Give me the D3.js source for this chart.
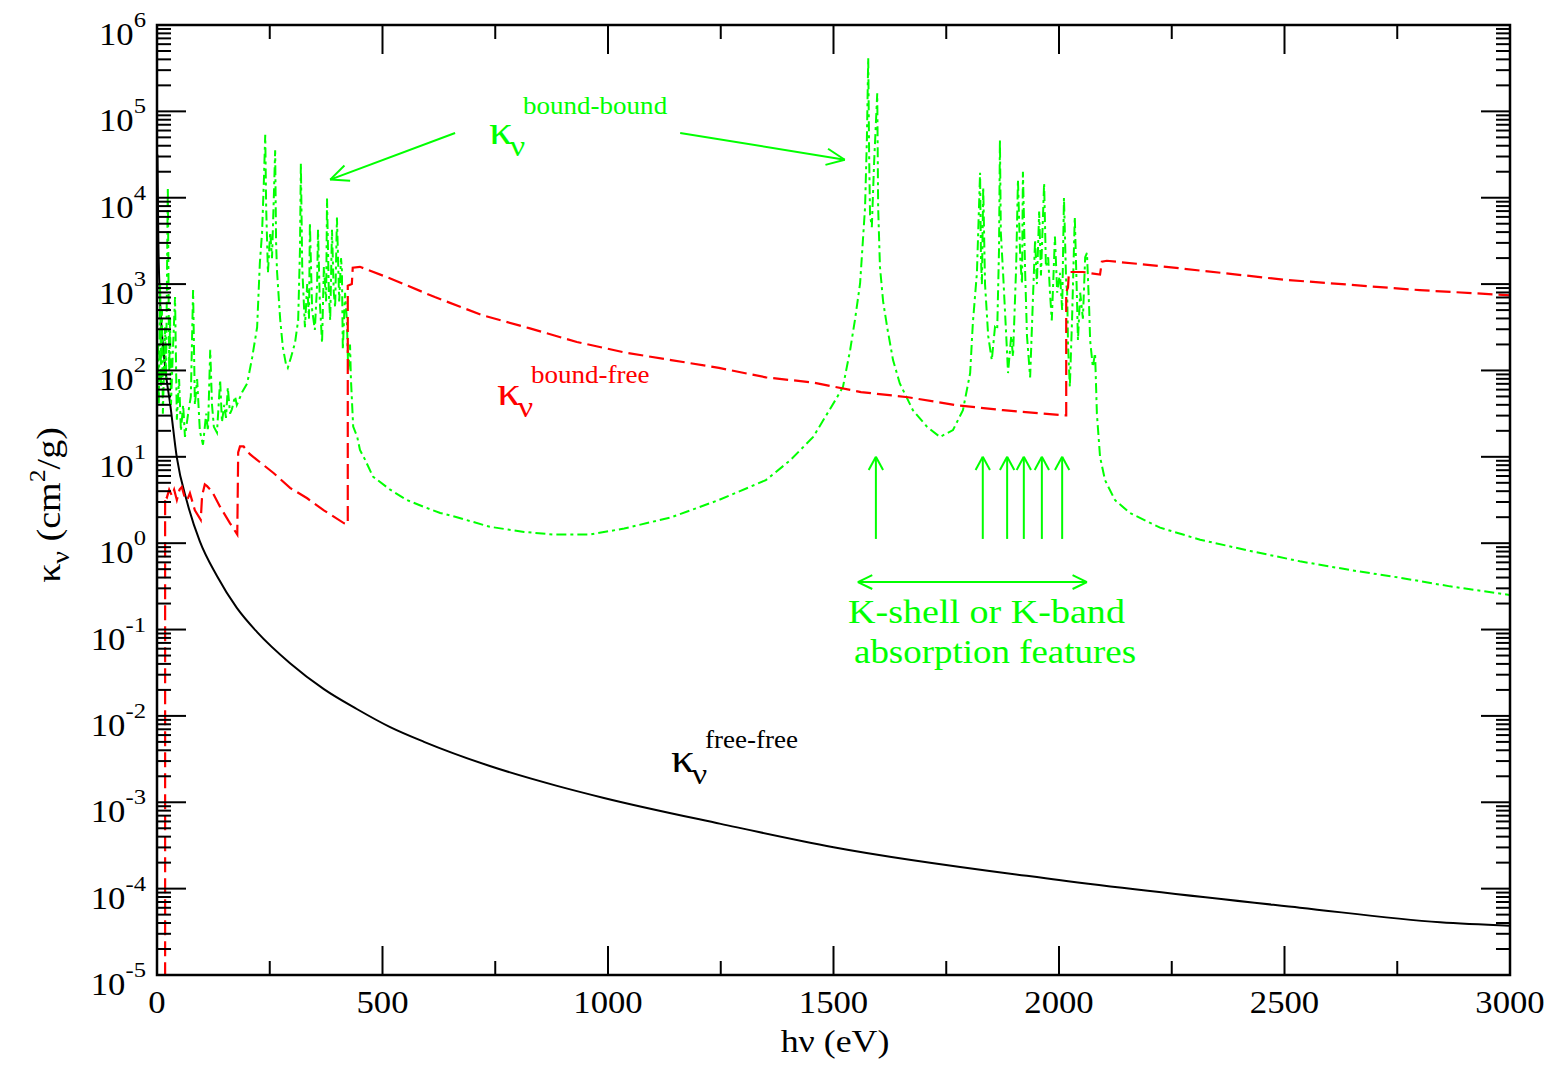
<!DOCTYPE html>
<html lang="en">
<head>
  <meta charset="UTF-8">
  <title>Opacity components vs photon energy</title>
  <script src="https://d3js.org/d3.v7.min.js"></script>
  <style>
    html, body {
      margin: 0;
      padding: 0;
      background: #fff;
    }
    svg text {
      font-family: "Liberation Serif", "Times New Roman", serif;
    }
  </style>
</head>
<body>
  <svg id="chart" width="1557" height="1065"></svg>
  <script>
    // axis ticks / labels
    var xMajorTicks = [0, 500, 1000, 1500, 2000, 2500, 3000];
    var xMinorTicks = [250, 750, 1250, 1750, 2250, 2750];
    var yExponents = [-5, -4, -3, -2, -1, 0, 1, 2, 3, 4, 5, 6];

    // series: [h nu (eV), log10 kappa (cm^2/g)]
    var freeFree = [
      [1, 4.5], [3, 3.5], [6, 2.9], [10, 2.5], [15, 2.2], [20, 1.95], [29, 1.62],
      [44, 0.99], [67, 0.47], [95, 0.02], [133, -0.38], [177, -0.75], [222, -1.03],
      [295, -1.39], [370, -1.69], [443, -1.92], [517, -2.13], [592, -2.30],
      [738, -2.58], [887, -2.81], [991, -2.95], [1250, -3.25], [1500, -3.52],
      [2000, -3.90], [2534, -4.22], [2845, -4.39], [3000, -4.43]
    ];

    var boundFree = [
      [18, -6], [18, 0.55], [22, 0.53], [27, 0.62], [33, 0.55], [38, 0.62], [44, 0.5],
      [50, 0.62], [55, 0.65], [62, 0.52], [67, 0.5], [73, 0.58], [84, 0.38], [97, 0.27],
      [100, 0.55], [106, 0.68], [111, 0.66], [122, 0.6], [140, 0.42], [162, 0.23],
      [178, 0.10], [180, 1.05], [184, 1.12], [192, 1.12], [206, 1.03], [259, 0.81],
      [295, 0.64], [333, 0.52], [370, 0.38], [415, 0.23], [423, 0.22], [423, 2.98],
      [432, 3.0], [434, 3.19], [450, 3.2], [510, 3.08], [616, 2.85], [721, 2.64],
      [825, 2.49], [931, 2.33], [1035, 2.21], [1140, 2.12], [1246, 2.03], [1350, 1.92],
      [1455, 1.86], [1561, 1.75], [1665, 1.69], [1769, 1.60], [1876, 1.54], [2011, 1.48],
      [2016, 1.48], [2016, 2.91], [2020, 2.96], [2022, 3.14], [2053, 3.14], [2091, 3.11],
      [2095, 3.26], [2106, 3.27], [2202, 3.22], [2500, 3.05], [2800, 2.93], [3000, 2.87]
    ];

    var boundBound = [
      [2, 2.3], [4, 1.6], [7, 3.0], [9, 1.8], [11, 2.7], [13, 1.5], [18, 2.5], [20, 1.9],
      [24, 4.12], [27, 2.0], [29, 2.6], [31, 1.6], [35, 2.2], [40, 2.85], [44, 1.43],
      [49, 1.9], [53, 1.3], [58, 1.6], [62, 1.23], [69, 1.5], [75, 1.7], [80, 2.93],
      [84, 1.6], [89, 1.9], [95, 1.3], [102, 1.14], [109, 1.5], [113, 1.3], [118, 2.24],
      [122, 1.6], [126, 1.35], [133, 1.28], [140, 1.89], [144, 1.4], [149, 1.6],
      [153, 1.45], [157, 1.80], [162, 1.5], [166, 1.55], [173, 1.7], [177, 1.6],
      [189, 1.75], [200, 1.85], [211, 2.15], [222, 2.5], [228, 3.24], [233, 3.6],
      [237, 4.2], [240, 4.73], [242, 3.9], [246, 3.13], [251, 3.6], [255, 3.3],
      [259, 4.0], [262, 4.55], [264, 3.5], [266, 3.16], [273, 2.6], [279, 2.27],
      [286, 2.07], [290, 2.03], [297, 2.15], [306, 2.32], [313, 2.58], [317, 3.4],
      [319, 4.4], [322, 3.2], [328, 2.5], [333, 3.0], [337, 2.6], [339, 3.71],
      [344, 2.7], [350, 2.47], [355, 3.0], [357, 3.63], [361, 2.8], [366, 2.32],
      [370, 3.2], [375, 2.8], [377, 3.99], [381, 2.9], [384, 2.58], [388, 3.63],
      [392, 2.9], [395, 2.73], [399, 3.77], [404, 2.8], [408, 3.3], [410, 3.16],
      [412, 2.24], [417, 2.9], [421, 2.58], [424, 2.0], [428, 2.3], [430, 1.9],
      [435, 1.35], [444, 1.23], [450, 1.08], [461, 0.97], [479, 0.77], [517, 0.62],
      [554, 0.50], [592, 0.42], [628, 0.35], [665, 0.30], [738, 0.19], [814, 0.13],
      [878, 0.10], [960, 0.10], [1036, 0.17], [1140, 0.30], [1246, 0.50], [1350, 0.73],
      [1404, 0.96], [1455, 1.23], [1508, 1.69], [1521, 1.81], [1537, 2.24], [1548, 2.6],
      [1559, 3.01], [1570, 3.89], [1574, 4.67], [1577, 5.62], [1579, 4.5], [1581, 3.8],
      [1585, 3.66], [1590, 4.4], [1597, 5.21], [1599, 3.89], [1603, 3.2], [1610, 2.8],
      [1619, 2.5], [1632, 2.12], [1647, 1.85], [1676, 1.54], [1707, 1.35], [1736, 1.23],
      [1765, 1.31], [1787, 1.54], [1803, 1.97], [1809, 2.55], [1818, 3.13], [1825, 4.29],
      [1827, 3.3], [1829, 3.0], [1832, 4.12], [1836, 3.0], [1843, 2.4], [1851, 2.12],
      [1858, 2.5], [1863, 2.47], [1867, 3.4], [1869, 4.67], [1871, 3.6], [1876, 3.13],
      [1883, 2.4], [1887, 1.97], [1894, 2.4], [1898, 2.16], [1905, 3.2], [1909, 4.21],
      [1914, 3.3], [1918, 3.0], [1920, 4.3], [1925, 3.13], [1929, 2.4], [1936, 1.92],
      [1942, 2.8], [1947, 3.51], [1951, 3.0], [1956, 3.84], [1960, 3.1], [1967, 4.17],
      [1971, 3.2], [1976, 3.31], [1980, 2.9], [1984, 2.58], [1991, 3.55], [1996, 2.9],
      [2002, 3.13], [2007, 2.7], [2011, 4.0], [2016, 3.0], [2018, 2.93], [2020, 2.3],
      [2024, 1.81], [2029, 2.6], [2035, 3.78], [2040, 2.8], [2042, 2.35], [2047, 2.9],
      [2053, 2.6], [2058, 3.31], [2062, 3.36], [2067, 2.7], [2069, 2.35], [2075, 2.04],
      [2080, 2.2], [2084, 1.5], [2091, 1.0], [2102, 0.73], [2124, 0.5], [2157, 0.35],
      [2224, 0.18], [2313, 0.04], [2424, -0.09], [2534, -0.21], [2645, -0.31],
      [2756, -0.40], [2867, -0.5], [3000, -0.6]
    ];

    // annotation anchors (h nu, kappa)
    var kShellArrowsE = [1594, 1831, 1885, 1922, 1962, 2007];
    var kShellSpanE = [1554, 2062];
    var bbArrowTails = [[661, 4.75], [1160, 4.75]];
    var bbArrowTips = [[384, 4.21], [1525, 4.44]];

    var green = "#00ff00", red = "#ff0000";

    var svg = d3.select("#chart");
    var frame = {left: 157, right: 1510, top: 25, bottom: 975};

    var x = d3.scaleLinear().domain([0, 3000]).range([frame.left, frame.right]);
    var y = d3.scaleLog().domain([1e-5, 1e6]).range([frame.bottom, frame.top]);

    var line = d3.line()
      .x(d => x(d[0]))
      .y(d => y(Math.pow(10, d[1])));

    svg.append("clipPath").attr("id", "plotClip")
      .append("rect")
      .attr("x", frame.left).attr("y", frame.top)
      .attr("width", frame.right - frame.left).attr("height", frame.bottom - frame.top);

    var plot = svg.append("g").attr("clip-path", "url(#plotClip)");

    plot.append("path")
      .datum(freeFree)
      .attr("fill", "none")
      .attr("stroke", "#000")
      .attr("stroke-width", 2)
      .attr("d", line.curve(d3.curveMonotoneX));

    line.curve(d3.curveLinear);

    plot.append("path")
      .datum(boundBound)
      .attr("fill", "none")
      .attr("stroke", green)
      .attr("stroke-width", 2)
      .attr("stroke-dasharray", "10,4,3,4")
      .attr("d", line);

    plot.append("path")
      .datum(boundFree)
      .attr("fill", "none")
      .attr("stroke", red)
      .attr("stroke-width", 2.2)
      .attr("stroke-dasharray", "15,6")
      .attr("d", line);

    // ticks on all four sides, pointing inward
    var ticks = svg.append("g").attr("stroke", "#000").attr("stroke-width", 2);
    function xTick(v, len) {
      ticks.append("line").attr("x1", x(v)).attr("x2", x(v)).attr("y1", frame.bottom).attr("y2", frame.bottom - len);
      ticks.append("line").attr("x1", x(v)).attr("x2", x(v)).attr("y1", frame.top).attr("y2", frame.top + len);
    }
    function yTick(v, len) {
      ticks.append("line").attr("y1", y(v)).attr("y2", y(v)).attr("x1", frame.left).attr("x2", frame.left + len);
      ticks.append("line").attr("y1", y(v)).attr("y2", y(v)).attr("x1", frame.right).attr("x2", frame.right - len);
    }
    xMajorTicks.forEach(v => xTick(v, 29));
    xMinorTicks.forEach(v => xTick(v, 14));
    yExponents.forEach(function(e) {
      yTick(Math.pow(10, e), 29);
      if (e < 6) {
        for (var k = 2; k < 10; k++) yTick(k * Math.pow(10, e), 14);
      }
    });

    svg.append("rect")
      .attr("x", frame.left).attr("y", frame.top)
      .attr("width", frame.right - frame.left).attr("height", frame.bottom - frame.top)
      .attr("fill", "none")
      .attr("stroke", "#000")
      .attr("stroke-width", 2.5);

    // wider glyphs, like the original raster
    function stretched(px, py, size, anchor, fill, sx) {
      return svg.append("text")
        .attr("transform", `translate(${px},${py}) scale(${sx || 1.12},1)`)
        .attr("font-size", size)
        .attr("text-anchor", anchor || "start")
        .attr("fill", fill || "#000");
    }

    xMajorTicks.forEach(function(v) {
      stretched(x(v), 1013, 31, "middle").text(v);
    });

    yExponents.forEach(function(e) {
      var t = stretched(146, y(Math.pow(10, e)) + 20, 31, "end");
      t.append("tspan").text("10");
      t.append("tspan").attr("dy", -18).attr("font-size", 22).text(e);
    });

    stretched(835, 1052, 32, "middle").text("h\u03bd (eV)");

    var yl = svg.append("text")
      .attr("transform", "translate(60,505) rotate(-90) scale(1.12,1)")
      .attr("font-size", 34)
      .attr("text-anchor", "middle");
    yl.append("tspan").text("\u03ba");
    yl.append("tspan").attr("dy", 9).attr("font-size", 25).text("\u03bd");
    yl.append("tspan").attr("dy", -9).text(" (cm");
    yl.append("tspan").attr("dy", -15).attr("font-size", 23).text("2");
    yl.append("tspan").attr("dy", 15).text("/g)");

    // kappa_nu^{label} annotations
    function kappaLabel(px, py, sup, color, supDy) {
      stretched(px, py, 42, "start", color).text("\u03ba");
      stretched(px + 21, py + 12, 30, "start", color).text("\u03bd");
      stretched(px + 34, py - supDy, 26, "start", color, 1.04).text(sup);
    }
    kappaLabel(489, 144, "bound-bound", green, 30);
    kappaLabel(497, 405, "bound-free", red, 22);
    kappaLabel(671, 772, "free-free", "#000", 24);

    // arrows
    var ann = svg.append("g")
      .attr("stroke", green)
      .attr("stroke-width", 2)
      .attr("fill", "none");

    function head(tx, ty, fx, fy, len, half) {
      var a = Math.atan2(fy - ty, fx - tx);
      [a - half, a + half].forEach(function(b) {
        ann.append("line")
          .attr("x1", tx).attr("y1", ty)
          .attr("x2", tx + len * Math.cos(b)).attr("y2", ty + len * Math.sin(b));
      });
    }

    bbArrowTails.forEach(function(t, i) {
      var p = bbArrowTips[i];
      var x0 = x(t[0]), y0 = y(Math.pow(10, t[1]));
      var x1 = x(p[0]), y1 = y(Math.pow(10, p[1]));
      ann.append("line").attr("x1", x0).attr("y1", y0).attr("x2", x1).attr("y2", y1);
      head(x1, y1, x0, y0, 20, 0.42);
    });

    kShellArrowsE.forEach(function(e) {
      var xa = x(e), tip = y(10), base = y(1.12);
      ann.append("line").attr("x1", xa).attr("x2", xa).attr("y1", base).attr("y2", tip);
      head(xa, tip, xa, base, 15, 0.5);
    });

    var ys = y(0.355), xs0 = x(kShellSpanE[0]), xs1 = x(kShellSpanE[1]);
    ann.append("line").attr("x1", xs0).attr("x2", xs1).attr("y1", ys).attr("y2", ys);
    head(xs0, ys, xs1, ys, 16, 0.45);
    head(xs1, ys, xs0, ys, 16, 0.45);

    stretched(848, 623, 34, "start", green).text("K-shell or K-band");
    stretched(854, 663, 33, "start", green).text("absorption features");
  </script>
</body>
</html>
